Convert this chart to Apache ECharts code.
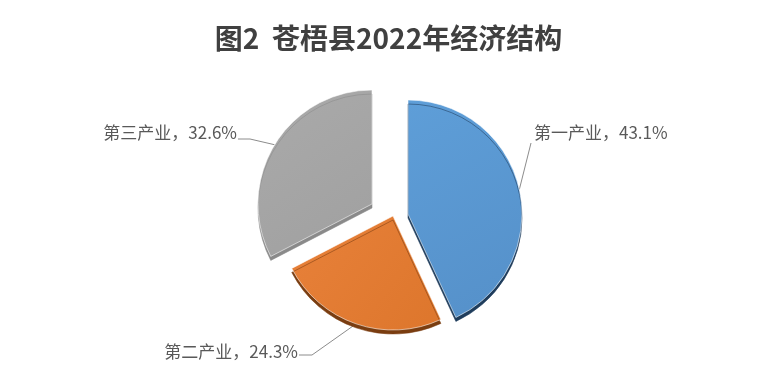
<!DOCTYPE html>
<html>
<head>
<meta charset="utf-8">
<script src="https://cdn.jsdelivr.net/npm/echarts@6/dist/echarts.min.js"></script>
<style>
html,body{margin:0;padding:0;background:#fff;}
#chart{width:777px;height:380px;}
</style>
</head>
<body>
<div id="chart"></div>
<script>
// ---- data ----
const titleText = '图2  苍梧县2022年经济结构';
const categories = ['第一产业', '第二产业', '第三产业'];
const values = [43.1, 24.3, 32.6];

// ---- styles / layout ----
const faceColors = [
  ['#5e9ed8', '#5590c9'],
  ['#e8813a', '#dd762c'],
  ['#aaaaaa', '#a0a0a0']
];
const sideColors = ['#1f3d5c', '#7a3d10', '#8a8a8a'];
// each exploded slice drawn in its own pie series so its centre can follow the reference
const centers = [[408, 214], [393, 216], [372, 204]];
const radius = 114;
// label anchor positions (layout)
const labelPos = [
  { x: 534, y: 133, align: 'left' },
  { x: 298, y: 352, align: 'right' },
  { x: 237, y: 133, align: 'right' }
];

function makeLayout(i) {
  return function (params) {
    if (params.dataIndex !== i) return {};
    const p = labelPos[i];
    const p0 = params.labelLinePoints ? params.labelLinePoints[0] : null;
    let pts;
    if (i === 0) {
      const end = [p.x - 3, p.y + 10];
      pts = [p0, end, end];
    } else if (i === 1) {
      const end = [p.x + 1, p.y + 3];
      pts = [p0, [end[0] + 13, end[1]], end];
    } else {
      const end = [p.x + 1, p.y + 6];
      pts = [p0, [end[0] + 12, end[1]], end];
    }
    const res = { x: p.x, y: p.y, align: p.align, verticalAlign: 'middle' };
    if (p0) res.labelLinePoints = pts;
    return res;
  };
}

const series = categories.map(function (_, i) {
  return {
    type: 'pie',
    center: centers[i],
    radius: radius,
    startAngle: 90,
    clockwise: true,
    avoidLabelOverlap: false,
    silent: true,
    animation: false,
    emphasis: { disabled: true },
    labelLayout: makeLayout(i),
    data: categories.map(function (name, j) {
      const on = j === i;
      return {
        name: name,
        value: values[j],
        itemStyle: on ? {
          color: {
            type: 'linear', x: 0, y: 0, x2: 1, y2: 1,
            colorStops: [{ offset: 0, color: faceColors[j][0] }, { offset: 1, color: faceColors[j][1] }]
          },
          borderColor: 'rgba(255,255,255,0.55)',
          borderWidth: 1,
          shadowColor: sideColors[j],
          shadowOffsetY: 4,
          shadowOffsetX: 0,
          shadowBlur: 0
        } : { color: 'rgba(0,0,0,0)', borderWidth: 0, shadowColor: 'rgba(0,0,0,0)' },
        label: on ? {
          show: true,
          formatter: '{b}，{c}%',
          color: '#595959',
          fontSize: 17,
          fontFamily: '"Noto Sans CJK SC", sans-serif'
        } : { show: false },
        labelLine: on ? {
          show: true,
          lineStyle: { color: '#8c8c8c', width: 1 }
        } : { show: false }
      };
    })
  };
});

const chart = echarts.init(document.getElementById('chart'), null, { renderer: 'canvas' });
chart.setOption({
  backgroundColor: '#ffffff',
  animation: false,
  title: {
    text: titleText,
    left: 'center',
    top: 19,
    textStyle: {
      fontSize: 28,
      fontWeight: 'bold',
      color: '#404040',
      fontFamily: '"Noto Sans CJK SC", sans-serif'
    }
  },
  series: series
});
</script>
</body>
</html>
